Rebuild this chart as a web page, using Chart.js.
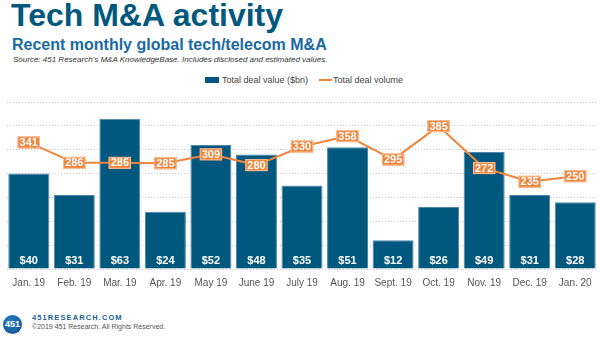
<!DOCTYPE html>
<html>
<head>
<meta charset="utf-8">
<script src="https://cdn.jsdelivr.net/npm/chart.js@4/dist/chart.umd.min.js"></script>
<style>
  html, body { margin: 0; padding: 0; background: #fff; }
  body { width: 600px; height: 340px; position: relative; overflow: hidden; font-family: "Liberation Sans", Arial, sans-serif; }
  #title { position: absolute; left: 11px; top: -3px; font-size: 32px; font-weight: bold; color: #00587f; white-space: nowrap; }
  #subtitle { position: absolute; left: 12px; top: 36px; font-size: 16px; font-weight: bold; color: #1769a3; white-space: nowrap; }
  #source { position: absolute; left: 13px; top: 55px; font-size: 8px; font-style: italic; color: #333; white-space: nowrap; }
  #legend { position: absolute; top: 74px; left: 205px; font-size: 9px; color: #444; white-space: nowrap; }
  #legend span { display: inline-block; vertical-align: middle; }
  .lb { width: 14px; height: 6px; background: #00587f; margin-right: 3px; }
  .ll { width: 13px; height: 2px; background: #f0843c; margin-left: 11px; margin-right: 1px; }
  #wrap { position: absolute; left: 0; top: 90px; width: 600px; height: 209px; }
  #logo { position: absolute; left: 3px; top: 315px; width: 19px; height: 19px; border-radius: 50%; background: radial-gradient(circle at 40% 35%, #2a7cc0, #0d4f8f); color: #fff; font-size: 9px; font-weight: bold; text-align: center; line-height: 19px; }
  #site { position: absolute; left: 32px; top: 313px; font-size: 7.5px; font-weight: bold; color: #1a5f92; letter-spacing: 1.1px; white-space: nowrap; }
  #copy { position: absolute; left: 32px; top: 323px; font-size: 7px; color: #555; white-space: nowrap; }
</style>
</head>
<body>
<div id="title">Tech M&amp;A activity</div>
<div id="subtitle">Recent monthly global tech/telecom M&amp;A</div>
<div id="source">Source: 451 Research’s M&amp;A KnowledgeBase. Includes disclosed and estimated values.</div>
<div id="legend"><span class="lb"></span><span>Total deal value ($bn)</span><span class="ll"></span><span>Total deal volume</span></div>
<div id="wrap"><canvas id="c"></canvas></div>
<div id="logo">451</div>
<div id="site">451RESEARCH.COM</div>
<div id="copy">©2019 451 Research. All Rights Reserved.</div>
<script>
const categories = ["Jan. 19","Feb. 19","Mar. 19","Apr. 19","May 19","June 19","July 19","Aug. 19","Sept. 19","Oct. 19","Nov. 19","Dec. 19","Jan. 20"];
const dealValue = [40,31,63,24,52,48,35,51,12,26,49,31,28];
const dealVolume = [341,286,286,285,309,280,330,358,295,385,272,235,250];

const BLUE = "#00587f";
const ORANGE = "#f0843c";

const labelPlugin = {
  id: "valueLabels",
  afterDatasetsDraw(chart) {
    const ctx = chart.ctx;
    ctx.save();
    const barMeta = chart.getDatasetMeta(0);
    ctx.font = "bold 11px 'Liberation Sans', Arial, sans-serif";
    ctx.fillStyle = "#fff";
    ctx.textAlign = "center";
    ctx.textBaseline = "middle";
    barMeta.data.forEach((bar, i) => {
      ctx.fillText("$" + dealValue[i], bar.x, bar.base - 8);
    });
    const lineMeta = chart.getDatasetMeta(1);
    lineMeta.data.forEach((pt, i) => {
      const txt = String(dealVolume[i]);
      const w = ctx.measureText(txt).width + 4;
      const h = 12;
      ctx.fillStyle = ORANGE;
      ctx.fillRect(pt.x - w / 2, pt.y - h / 2, w, h);
      ctx.strokeStyle = "#f8c09a";
      ctx.lineWidth = 1;
      ctx.strokeRect(pt.x - w / 2 + 0.5, pt.y - h / 2 + 0.5, w - 1, h - 1);
      ctx.fillStyle = "#fff";
      ctx.fillText(txt, pt.x, pt.y + 0.5);
    });
    ctx.restore();
  }
};

new Chart(document.getElementById("c"), {
  data: {
    labels: categories,
    datasets: [
      {
        type: "bar",
        label: "Total deal value ($bn)",
        data: dealValue,
        backgroundColor: BLUE,
        borderColor: "#4d86a8",
        borderWidth: 1,
        barPercentage: 0.9,
        categoryPercentage: 1.0,
        yAxisID: "y",
        order: 2
      },
      {
        type: "line",
        label: "Total deal volume",
        data: dealVolume,
        borderColor: ORANGE,
        borderWidth: 2,
        pointRadius: 0,
        tension: 0,
        yAxisID: "y2",
        order: 1
      }
    ]
  },
  options: {
    responsive: true,
    maintainAspectRatio: false,
    animation: false,
    layout: { padding: { left: 6, right: 2, top: 12, bottom: 2 } },
    plugins: { legend: { display: false }, tooltip: { enabled: false } },
    scales: {
      x: {
        grid: { display: false, drawTicks: false },
        border: { display: false },
        ticks: { color: "#555", padding: 8, font: { family: "'Liberation Sans Narrow', 'Liberation Sans', Arial, sans-serif", size: 10 }, maxRotation: 0, autoSkip: false }
      },
      y: {
        position: "left",
        min: 0, max: 70,
        ticks: { display: false, stepSize: 10 },
        grid: { color: "#c8c8c8", lineWidth: 1, drawTicks: false, borderDash: [1, 2] },
        border: { display: true, color: "rgba(0,0,0,0)", dash: [1, 2] }
      },
      y2: {
        display: false,
        min: 0, max: 450
      }
    }
  },
  plugins: [labelPlugin]
});
</script>
</body>
</html>
